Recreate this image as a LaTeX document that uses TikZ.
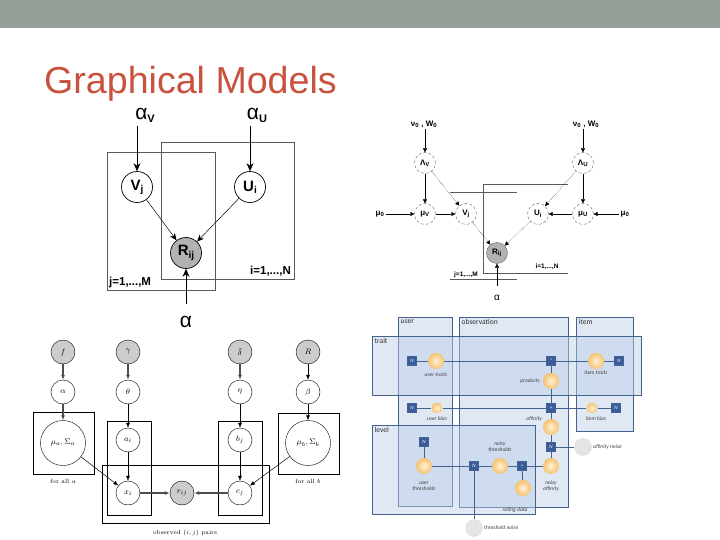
\documentclass[tikz,border=0pt]{standalone}
\usepackage{fontspec}
\newfontfamily\arialf{Liberation Sans}
\newfontfamily\calibf{Carlito}
\usetikzlibrary{arrows.meta,positioning}
\definecolor{barcol}{RGB}{148,160,152}
\definecolor{titlecol}{RGB}{200,82,62}
\definecolor{panelfill}{RGB}{188,205,232}
\definecolor{panelline}{RGB}{68,98,145}
\definecolor{factorcol}{RGB}{58,92,155}
\definecolor{varin}{RGB}{255,242,215}
\definecolor{varout}{RGB}{246,194,112}
\tikzset{pmvar/.style={draw,circle,line width=0.7pt,minimum size=31pt,inner sep=0pt,fill=white,font=\arialf\bfseries\fontsize{15}{15}\selectfont},
pmobs/.style={pmvar,fill=gray!60},
pmarrow/.style={-{Stealth[length=8pt,width=7pt]},line width=0.7pt},
plate/.style={draw=gray!70!black,line width=0.7pt},
platelbl/.style={font=\arialf\bfseries\fontsize{11.5}{11.5}\selectfont,inner sep=1pt},
bvar/.style={draw=gray!80!black,densely dashed,circle,minimum size=21pt,inner sep=0pt,fill=white,font=\arialf\bfseries\fontsize{8}{8}\selectfont},
bobs/.style={bvar,solid,fill=gray!60},
btxt/.style={font=\arialf\bfseries\fontsize{8}{8}\selectfont,inner sep=1pt},
barrow/.style={-{Triangle[length=4pt,width=4pt]},line width=0.4pt},
bdot/.style={barrow,densely dotted},
gvar/.style={draw,circle,minimum size=24pt,inner sep=0pt,fill=white,font=\fontsize{8}{8}\selectfont},
gobs/.style={gvar,fill=gray!40},
gbig/.style={gvar,minimum size=45pt},
garrow/.style={-{Latex[length=5pt,width=4pt]},line width=0.5pt},
gthick/.style={garrow,line width=1.6pt,draw=gray!60!black},
gplate/.style={draw,line width=0.9pt},
glbl/.style={font=\fontsize{6}{6}\selectfont,inner sep=1pt},
panel/.style={draw=panelline,line width=0.9pt,fill=panelfill,fill opacity=0.45},
paneltxt/.style={font=\calibf\fontsize{7.5}{8}\selectfont,text=black!80,anchor=north west,inner sep=1.5pt},
factor/.style={draw=panelline,fill=factorcol,minimum size=9pt,inner sep=0pt,text=white,font=\calibf\itshape\fontsize{5}{5}\selectfont},
mvar/.style={circle,inner color=varin,outer color=varout,minimum size=16pt,inner sep=0pt},
msmall/.style={mvar,minimum size=11pt},
noise/.style={circle,draw=gray!50,densely dotted,fill=gray!20,minimum size=17pt,inner sep=0pt},
mtxt/.style={font=\calibf\itshape\fontsize{5.5}{6}\selectfont,align=center,text=black!75,inner sep=1pt},
mline/.style={draw=panelline,line width=0.9pt}}
\begin{document}
\begin{tikzpicture}[x=1pt,y=-1pt]
\useasboundingbox (0,0) rectangle (720,540);
\fill[white] (0,0) rectangle (720,540);
\fill[barcol] (0,0) rectangle (720,28);
\node[anchor=base west,inner sep=0pt,text=titlecol,font=\arialf\fontsize{37.6}{40}\selectfont] (title) at (44,94) {Graphical Models};

% probabilistic matrix factorisation
\draw[plate] (107,152) rectangle (215,290);
\draw[plate] (161,142) rectangle (294,279);
\node[platelbl,anchor=south west] (jlbl) at (108,289) {j=1,...,M};
\node[platelbl,anchor=south east] (ilbl) at (292,277) {i=1,...,N};
\node (aV) at (145,115) {\arialf\fontsize{21}{21}\selectfont α\raisebox{-3pt}{\bfseries\fontsize{11}{11}\selectfont V}};
\node (aU) at (257,115) {\arialf\fontsize{21}{21}\selectfont α\raisebox{-3pt}{\bfseries\fontsize{11}{11}\selectfont U}};
\node[pmvar] (Vj) at (137,187) {V\raisebox{-2pt}{\fontsize{10}{10}\selectfont j}};
\node[pmvar] (Ui) at (250,187) {U\raisebox{-2pt}{\fontsize{10}{10}\selectfont i}};
\node[pmobs] (Rij) at (186,253) {R\raisebox{-3pt}{\fontsize{10}{10}\selectfont ij}};
\node (alR) at (186,322) {\arialf\fontsize{21}{21}\selectfont α};
\draw[pmarrow] (aV.south -| Vj) -- (Vj);
\draw[pmarrow] (aU.south -| Ui) -- (Ui);
\draw[-{Stealth[length=7pt,width=6pt]},line width=0.5pt] (Vj) -- (Rij);
\draw[-{Stealth[length=7pt,width=6pt]},line width=0.5pt] (Ui) -- (Rij);
\draw[pmarrow,shorten <=9pt] (alR) -- (Rij);

% bayesian matrix factorisation
\draw[plate] (568,184) -- (483,184) -- (483,273) -- (568,273);
\draw[plate] (450,192) -- (517,192);
\draw[plate] (450,279) -- (517,279);
\node[btxt,font=\arialf\bfseries\fontsize{6.5}{6.5}\selectfont] (ilbl2) at (547,267) {i=1,...,N};
\node[btxt,font=\arialf\bfseries\fontsize{6.5}{6.5}\selectfont] (jlbl2) at (466,275) {j=1,...,M};
\node[btxt] (nuV) at (424,124) {ν\textsubscript{0} , W\textsubscript{0}};
\node[btxt] (nuU) at (586,124) {ν\textsubscript{0} , W\textsubscript{0}};
\node[bvar] (LV) at (425,163) {Λ\textsubscript{V}};
\node[bvar] (LU) at (583,163) {Λ\textsubscript{U}};
\node[bvar] (muV) at (425,214) {μ\textsubscript{V}};
\node[bvar] (Vj2) at (466,214) {V\textsubscript{j}};
\node[bvar] (Ui2) at (538,214) {U\textsubscript{i}};
\node[bvar] (muU) at (583,214) {μ\textsubscript{U}};
\node[btxt] (mu0L) at (380,214) {μ\textsubscript{0}};
\node[btxt] (mu0R) at (625,214) {μ\textsubscript{0}};
\node[bobs] (R2) at (497,253) {R\textsubscript{ij}};
\node[btxt,font=\arialf\fontsize{10}{10}\selectfont] (al2) at (497,298) {α};
\draw[barrow] (nuV.south -| LV) -- (LV);
\draw[barrow] (nuU.south -| LU) -- (LU);
\draw[barrow] (LV) -- (muV);
\draw[barrow] (LU) -- (muU);
\draw[bdot] (LV) -- (Vj2);
\draw[bdot] (LU) -- (Ui2);
\draw[barrow] (mu0L) -- (muV);
\draw[barrow] (muV) -- (Vj2);
\draw[barrow] (mu0R) -- (muU);
\draw[barrow] (muU) -- (Ui2);
\draw[bdot] (Vj2) -- (R2);
\draw[bdot] (Ui2) -- (R2);
\draw[barrow,shorten <=8pt] (al2) -- (R2);

% hierarchical model with plates
\draw[gplate] (33,412) rectangle (94,474);
\draw[gplate] (107,421) rectangle (151,515);
\draw[gplate] (218,421) rectangle (262,515);
\draw[gplate] (278,413) rectangle (339,474);
\draw[gplate] (102,465) rectangle (269,523);
\node[glbl] (alla) at (63,481) {for all $a$};
\node[glbl] (allb) at (308,481) {for all $b$};
\node[glbl] (pairs) at (185,533) {observed $(i,j)$ pairs};
\node[gobs] (g1) at (63,352) {$f$};
\node[gobs] (g2) at (128,352) {$\gamma$};
\node[gobs] (g3) at (240,352) {$\bar{\delta}$};
\node[gobs] (g4) at (308,352) {$R$};
\node[gvar] (al3) at (63,392) {$\alpha$};
\node[gvar] (th) at (128,392) {$\theta$};
\node[gvar] (eta) at (240,392) {$\eta$};
\node[gvar] (be) at (308,392) {$\beta$};
\node[gbig] (mua) at (63,443) {$\mu_a,\Sigma_a$};
\node[gbig] (mub) at (308,443) {$\mu_b,\Sigma_b$};
\node[gvar] (ai) at (128,440) {$a_i$};
\node[gvar] (bj) at (240,440) {$b_j$};
\node[gvar] (xi) at (128,493) {$x_i$};
\node[gobs] (rij) at (182,493) {$r_{ij}$};
\node[gvar] (cj) at (240,493) {$c_j$};
\draw[gthick] (g1) -- (al3);
\draw[gthick] (g2) -- (th);
\draw[gthick] (g3) -- (eta);
\draw[garrow] (g4) -- (be);
\draw[gthick] (al3) -- (mua);
\draw[garrow] (th) -- (ai);
\draw[garrow] (eta) -- (bj);
\draw[garrow] (be) -- (mub);
\draw[garrow] (mua) -- (xi);
\draw[garrow] (ai) -- (xi);
\draw[garrow] (bj) -- (cj);
\draw[garrow] (mub) -- (cj);
\draw[gthick] (xi) -- (rij);
\draw[gthick] (cj) -- (rij);

% factor graph
\draw[panel] (398,317) rectangle (452,506);
\draw[panel] (459,317) rectangle (568,507);
\draw[panel] (576,317) rectangle (633,431);
\draw[panel] (372,336) rectangle (641,395);
\draw[panel] (372,425) rectangle (535,514);
\node[paneltxt] (puser) at (399,318) {user};
\node[paneltxt] (pobs) at (460,318) {observation};
\node[paneltxt] (pitem) at (577,318) {item};
\node[paneltxt] (ptrait) at (373,337) {trait};
\node[paneltxt] (plevel) at (373,426) {level};
\node[factor] (Nut) at (412,361) {N};
\node[mvar] (ut) at (436,361) {};
\node[factor] (prod) at (551,361) {*};
\node[mvar] (it) at (596,361) {};
\node[factor] (Nit) at (619,361) {N};
\node[mvar] (pr) at (551,381) {};
\node[factor] (plus) at (551,408) {+};
\node[factor] (Nub) at (412,408) {N};
\node[msmall] (ub) at (437,408) {};
\node[msmall] (ib) at (592,408) {};
\node[factor] (Nib) at (616,408) {N};
\node[mvar] (aff) at (551,427) {};
\node[factor] (Naf) at (551,447) {N};
\node[noise] (afn) at (583,447) {};
\node[mvar] (naff) at (551,466) {};
\node[factor] (gt) at (522,466) {>};
\node[mvar] (nth) at (500,466) {};
\node[mvar] (rd) at (523,488) {};
\node[factor] (Nth) at (474,466) {N};
\node[noise] (thn) at (474,528) {};
\node[factor] (Nutr) at (424,442) {N};
\node[mvar] (utr) at (424,466) {};
\node[mtxt] at (436,375) {user traits};
\node[mtxt] at (596,373) {item traits};
\node[mtxt,anchor=east] at (541,381) {products};
\node[mtxt] at (437,419) {user bias};
\node[mtxt] at (596,419) {item bias};
\node[mtxt] at (534,419) {affinity};
\node[mtxt,anchor=west] at (592,447) {affinity noise};
\node[mtxt] at (551,486) {noisy\\affinity};
\node[mtxt] at (500,447) {noisy\\thresholds};
\node[mtxt] at (515,510) {rating data};
\node[mtxt,anchor=west] at (483,528) {threshold noise};
\node[mtxt] at (424,486) {user\\thresholds};
\draw[mline] (Nut) -- (ut) -- (prod) -- (it) -- (Nit);
\draw[mline] (prod) -- (pr) -- (plus) -- (aff) -- (Naf) -- (naff);
\draw[mline] (Nub) -- (ub) -- (plus) -- (ib) -- (Nib);
\draw[mline] (afn) -- (Naf);
\draw[mline] (Nutr) -- (utr) -- (Nth) -- (nth) -- (gt) -- (naff);
\draw[mline] (rd) -- (gt);
\draw[mline] (Nth) -- (thn);
\end{tikzpicture}
\end{document}
